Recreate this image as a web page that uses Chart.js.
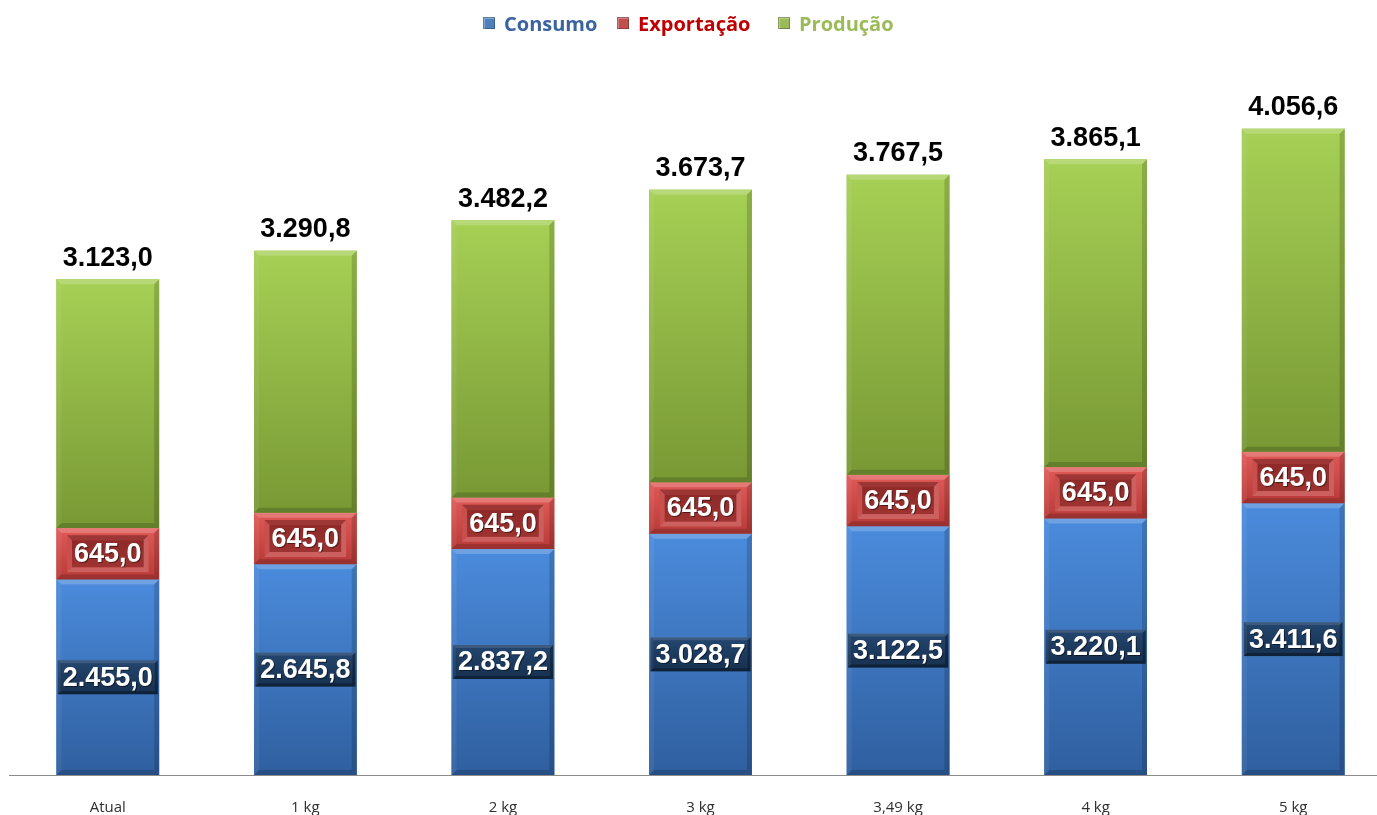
<!DOCTYPE html>
<html lang="pt-BR">
<head>
<meta charset="utf-8">
<title>Consumo, Exportação e Produção</title>
<script src="https://cdn.jsdelivr.net/npm/chart.js@4/dist/chart.umd.min.js"></script>
<style>
    html, body { margin: 0; padding: 0; background: #fff; }
    body { width: 1377px; height: 815px; overflow: hidden; position: relative; }
    #wrap { position: absolute; left: 0; top: 0; width: 1392px; height: 815px; }
    .legend-item { position: absolute; top: 9px; height: 28px; display: flex; align-items: center;
        font-family: 'Open Sans', sans-serif; font-weight: 700; font-size: 20px; white-space: nowrap; }
    .legend-box { width: 12px; height: 12px; margin-right: 9px; box-sizing: border-box;
        box-shadow: inset 0 0 0 1px rgba(0,0,0,0.25), inset 2px 2px 0 rgba(255,255,255,0.3); }
</style>
</head>
<body>
<div id="wrap"><canvas id="chart" width="1392" height="815"></canvas></div>
<div class="legend-item" style="left:483px;color:#3a63a1"><span class="legend-box" style="background:#4f81bd"></span>Consumo</div>
<div class="legend-item" style="left:617px;color:#c00000"><span class="legend-box" style="background:#c0504d"></span>Exportação</div>
<div class="legend-item" style="left:778px;color:#9bbb59"><span class="legend-box" style="background:#9bbb59"></span>Produção</div>
<script>
const categories = ['Atual', '1 kg', '2 kg', '3 kg', '3,49 kg', '4 kg', '5 kg'];
const consumo = [2455.0, 2645.8, 2837.2, 3028.7, 3122.5, 3220.1, 3411.6];
const exportacao = [645.0, 645.0, 645.0, 645.0, 645.0, 645.0, 645.0];
const producao = [3123.0, 3290.8, 3482.2, 3673.7, 3767.5, 3865.1, 4056.6];

// top / bottom gradient colours per series
const barStyles = [
    { top: '#4b8bdc', bottom: '#2f5f9f', base: '#3f78c4' },
    { top: '#e05a57', bottom: '#b83a38', base: '#cc4a48' },
    { top: '#a6d055', bottom: '#789834', base: '#92ba48' }
];

function formatValue(v) {
    const parts = v.toFixed(1).split('.');
    return parts[0].replace(/\B(?=(\d{3})+(?!\d))/g, '.') + ',' + parts[1];
}

function drawBevel(ctx, left, top, right, bottom, b, light, dark) {
    ctx.fillStyle = light;
    ctx.beginPath();
    ctx.moveTo(left, top); ctx.lineTo(right, top); ctx.lineTo(right - b, top + b); ctx.lineTo(left + b, top + b);
    ctx.closePath(); ctx.fill();
    ctx.fillStyle = 'rgba(255,255,255,0.06)';
    ctx.beginPath();
    ctx.moveTo(left, top); ctx.lineTo(left + b, top + b); ctx.lineTo(left + b, bottom - b); ctx.lineTo(left, bottom);
    ctx.closePath(); ctx.fill();
    ctx.fillStyle = dark;
    ctx.beginPath();
    ctx.moveTo(right, top); ctx.lineTo(right, bottom); ctx.lineTo(right - b, bottom - b); ctx.lineTo(right - b, top + b);
    ctx.closePath(); ctx.fill();
    ctx.beginPath();
    ctx.moveTo(left, bottom); ctx.lineTo(right, bottom); ctx.lineTo(right - b, bottom - b); ctx.lineTo(left + b, bottom - b);
    ctx.closePath(); ctx.fill();
}

const barLook = {
    id: 'barLook',
    afterDatasetsDraw(chart) {
        const ctx = chart.ctx;
        ctx.save();
        // shading of the bars
        chart.data.datasets.forEach((ds, di) => {
            const style = barStyles[di];
            chart.getDatasetMeta(di).data.forEach(el => {
                const p = el.getProps(['x', 'y', 'base', 'width'], true);
                const left = p.x - p.width / 2, right = p.x + p.width / 2;
                const top = Math.min(p.y, p.base), bottom = Math.max(p.y, p.base);
                const g = ctx.createLinearGradient(0, top, 0, bottom);
                g.addColorStop(0, style.top);
                g.addColorStop(1, style.bottom);
                ctx.fillStyle = g;
                ctx.fillRect(left, top, right - left, bottom - top);
                drawBevel(ctx, left, top, right, bottom, 5, 'rgba(255,255,255,0.2)', 'rgba(0,0,0,0.16)');
            });
        });

        // value labels
        ctx.textAlign = 'center';
        ctx.textBaseline = 'middle';
        ctx.font = 'bold 27px "Liberation Sans", Arial, sans-serif';
        chart.data.datasets.forEach((ds, di) => {
            chart.getDatasetMeta(di).data.forEach((el, i) => {
                const p = el.getProps(['x', 'y', 'base'], true);
                const text = formatValue(ds.data[i]);
                const tw = ctx.measureText(text).width;
                if (di === 2) {
                    ctx.fillStyle = '#000';
                    ctx.fillText(text, p.x, p.y - 21);
                    return;
                }
                const cy = (p.y + p.base) / 2;
                if (di === 0) {
                    const w = tw + 10, h = 34;
                    const l = p.x - w / 2, t = cy - h / 2;
                    const g = ctx.createLinearGradient(0, t, 0, t + h);
                    g.addColorStop(0, '#24466f');
                    g.addColorStop(1, '#16304f');
                    ctx.fillStyle = g;
                    ctx.fillRect(l, t, w, h);
                    drawBevel(ctx, l, t, l + w, t + h, 3, 'rgba(255,255,255,0.12)', 'rgba(0,0,0,0.3)');
                } else {
                    const w = tw + 14, h = 37;
                    const l = p.x - w / 2, t = cy - h / 2;
                    ctx.fillStyle = '#c44543';
                    ctx.fillRect(l, t, w, h);
                    drawBevel(ctx, l, t, l + w, t + h, 5, 'rgba(0,0,0,0.2)', 'rgba(255,255,255,0.15)');
                    const g = ctx.createLinearGradient(0, t + 5, 0, t + h - 5);
                    g.addColorStop(0, '#8e2a29');
                    g.addColorStop(1, '#9e3331');
                    ctx.fillStyle = g;
                    ctx.fillRect(l + 5, t + 5, w - 10, h - 10);
                }
                ctx.fillStyle = 'rgba(0,0,0,0.5)';
                ctx.fillText(text, p.x + 1, cy + 2);
                ctx.fillStyle = '#fff';
                ctx.fillText(text, p.x, cy + 1);
            });
        });
        ctx.restore();
    }
};

const ctx = document.getElementById('chart');

new Chart(ctx, {
    type: 'bar',
    data: {
        labels: categories,
        datasets: [
            { label: 'Consumo', data: consumo, backgroundColor: barStyles[0].base },
            { label: 'Exportação', data: exportacao, backgroundColor: barStyles[1].base },
            { label: 'Produção', data: producao, backgroundColor: barStyles[2].base }
        ]
    },
    options: {
        responsive: false,
        animation: false,
        devicePixelRatio: 1,
        categoryPercentage: 1,
        barPercentage: 0.52,
        layout: { padding: { left: 9, right: 0, top: 58, bottom: 0 } },
        scales: {
            x: {
                stacked: true,
                grid: { display: false, drawTicks: false },
                border: { display: true, color: '#8c8c8c', width: 1 },
                ticks: {
                    color: '#303030',
                    padding: 24,
                    maxRotation: 0,
                    font: { family: "'Open Sans', sans-serif", size: 15 }
                },
                afterFit: scale => { scale.height = 40; }
            },
            y: {
                stacked: true,
                display: false,
                min: 0,
                max: 9000
            }
        },
        plugins: {
            legend: { display: false },
            tooltip: { enabled: false }
        }
    },
    plugins: [barLook]
});
</script>
</body>
</html>
